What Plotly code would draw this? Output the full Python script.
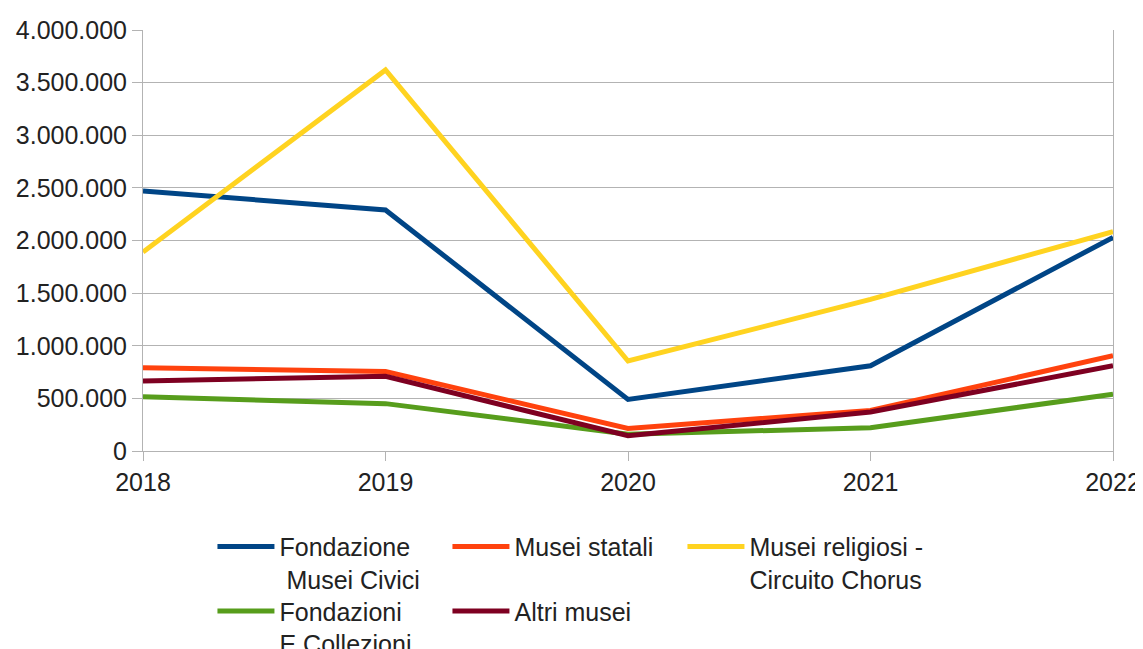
import plotly.graph_objects as go

years = [2018, 2019, 2020, 2021, 2022]
fondazione_musei_civici = [2470000, 2290000, 490000, 810000, 2030000]
musei_statali = [790000, 755000, 215000, 385000, 905000]
musei_religiosi = [1890000, 3620000, 855000, 1440000, 2085000]
fondazioni_collezioni = [515000, 450000, 160000, 220000, 540000]
altri_musei = [665000, 710000, 145000, 370000, 810000]

series = [
    ("Fondazione<br> Musei Civici", fondazione_musei_civici, "#004586", "legend", None),
    ("Musei statali", musei_statali, "#ff420e", "legend", None),
    ("Musei religiosi -<br>Circuito Chorus", musei_religiosi, "#ffd320", "legend", 200),
    ("Fondazioni<br>E Collezioni", fondazioni_collezioni, "#579d1c", "legend2", None),
    ("Altri musei", altri_musei, "#7e0021", "legend2", None),
]

fig = go.Figure()
for name, vals, color, lg, lw in series:
    kw = {}
    if lw:
        kw["legendwidth"] = lw
    fig.add_trace(go.Scatter(x=years, y=vals, name=name, mode="lines",
                             line=dict(color=color, width=5), legend=lg, **kw))

font = dict(family="Liberation Sans", size=25, color="#222222")
grid = "#b3b3b3"

legend_common = dict(orientation="h", xanchor="left", yanchor="top",
                     font=font, valign="top", itemwidth=57,
                     entrywidth=163, entrywidthmode="pixels",
                     bgcolor="rgba(0,0,0,0)", traceorder="normal",
                     itemclick=False, tracegroupgap=0)

fig.update_layout(
    width=1143, height=649,
    margin=dict(l=135, r=38, t=22, b=206, autoexpand=False),
    paper_bgcolor="white", plot_bgcolor="white",
    font=font,
    separators=",.",
    showlegend=True,
    legend=dict(x=0.0716, y=-0.173, **legend_common),
    legend2=dict(x=0.0716, y=-0.326, **legend_common),
    xaxis=dict(range=[2018, 2022], tickvals=years, ticktext=[str(y) for y in years],
               showgrid=False, zeroline=False, showline=True, linecolor=grid, linewidth=1,
               ticks="outside", ticklen=9, tickcolor=grid, tickfont=font),
    yaxis=dict(range=[0, 4000000], dtick=500000, tickformat=",d",
               showgrid=True, gridcolor=grid, gridwidth=1, zeroline=False,
               showline=True, linecolor=grid, mirror=True, linewidth=1,
               ticks="outside", ticklen=10, tickcolor=grid, tickfont=font),
)

fig.write_html("out.html")
